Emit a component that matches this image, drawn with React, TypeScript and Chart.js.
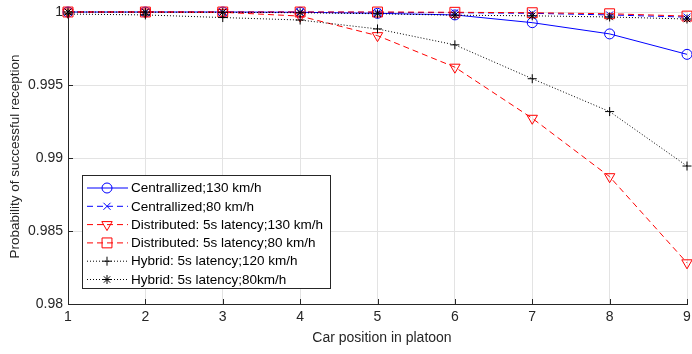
import React, { useEffect, useRef } from 'react';
import { Chart, registerables } from 'chart.js';
import { drawPoint } from 'chart.js/helpers';

Chart.register(...registerables);

const positions = [1, 2, 3, 4, 5, 6, 7, 8, 9];
const yTickValues = [0.98, 0.985, 0.99, 0.995, 1];
const yTickLabels = ['0.98', '0.985', '0.99', '0.995', '1'];
const xTickLabels = ['1', '2', '3', '4', '5', '6', '7', '8', '9'];

const centralized130 = [1, 1, 1, 0.99998, 0.99991, 0.9998, 0.99927, 0.9985, 0.9971];
const centralized80 = [1, 1, 1, 1, 0.99998, 0.99995, 0.99991, 0.9998, 0.99965];
const distributed130 = [1, 1, 0.99998, 0.99972, 0.99838, 0.99622, 0.99272, 0.98872, 0.98282];
const distributed80 = [1, 1, 1, 1, 1, 0.99998, 0.99995, 0.99988, 0.99972];
const hybrid120 = [0.99986, 0.9998, 0.99962, 0.99945, 0.99884, 0.99775, 0.99543, 0.99318, 0.98945];
const hybrid80 = [1, 0.99999, 0.99998, 0.99995, 0.99988, 0.99978, 0.99974, 0.99966, 0.99952];

const seriesNames = [
  'Centrallized;130 km/h',
  'Centrallized;80 km/h',
  'Distributed: 5s latency;130 km/h',
  'Distributed: 5s latency;80 km/h',
  'Hybrid: 5s latency;120 km/h',
  'Hybrid: 5s latency;80km/h',
];

const FONT = '"Liberation Sans", Arial, Helvetica, sans-serif';
const TEXT = '#262626';

type Style = { color: string; dash: number[]; pointStyle: string; radius: number; rotation: number };
const styles: Style[] = [
  { color: '#0000ff', dash: [], pointStyle: 'circle', radius: 5, rotation: 0 },
  { color: '#0000ff', dash: [6, 4], pointStyle: 'crossRot', radius: 5, rotation: 0 },
  { color: '#ff0000', dash: [6, 4], pointStyle: 'triangle', radius: 6, rotation: 180 },
  { color: '#ff0000', dash: [6, 4], pointStyle: 'rect', radius: 7, rotation: 0 },
  { color: '#000000', dash: [1, 2], pointStyle: 'cross', radius: 4.5, rotation: 0 },
  { color: '#000000', dash: [1, 2], pointStyle: 'star', radius: 4.5, rotation: 0 },
];

const seriesValues = [centralized130, centralized80, distributed130, distributed80, hybrid120, hybrid80];

const decorPlugin = {
  id: 'decor',
  afterDatasetsDraw(chart: any) {
    const ctx = chart.ctx as CanvasRenderingContext2D;
    const area = chart.chartArea;
    const xs = chart.scales.x;
    const ys = chart.scales.y;
    ctx.save();
    ctx.strokeStyle = TEXT;
    ctx.lineWidth = 1;
    ctx.setLineDash([]);
    ctx.beginPath();
    positions.forEach((p) => {
      const px = Math.round(xs.getPixelForValue(p)) + 0.5;
      ctx.moveTo(px, area.bottom);
      ctx.lineTo(px, area.bottom - 5);
    });
    yTickValues.forEach((v) => {
      const py = Math.round(ys.getPixelForValue(v)) + 0.5;
      ctx.moveTo(area.left, py);
      ctx.lineTo(area.left + 5, py);
    });
    ctx.stroke();
    ctx.restore();
  },
  afterDraw(chart: any) {
    const ctx = chart.ctx as CanvasRenderingContext2D;
    ctx.save();
    ctx.fillStyle = TEXT;
    ctx.textAlign = 'center';
    ctx.textBaseline = 'middle';
    ctx.font = `14px ${FONT}`;
    ctx.fillText('Car position in platoon', 382, 338.5);
    ctx.font = `13.5px ${FONT}`;
    ctx.save();
    ctx.translate(15, 156.5);
    ctx.rotate(-Math.PI / 2);
    ctx.fillText('Probability of successful reception', 0, 0);
    ctx.restore();

    const bx = 82.5, by = 175.5, bw = 248, bh = 113;
    ctx.fillStyle = '#ffffff';
    ctx.fillRect(bx, by, bw, bh);
    ctx.strokeStyle = TEXT;
    ctx.lineWidth = 1;
    ctx.setLineDash([]);
    ctx.strokeRect(bx, by, bw, bh);
    ctx.font = `13.5px ${FONT}`;
    ctx.textAlign = 'left';
    ctx.textBaseline = 'middle';
    seriesNames.forEach((name, i) => {
      const st = styles[i];
      const y = 188 + i * 18.3;
      ctx.strokeStyle = st.color;
      ctx.lineWidth = 1;
      ctx.setLineDash(st.dash);
      ctx.beginPath();
      ctx.moveTo(87, y);
      ctx.lineTo(128, y);
      ctx.stroke();
      ctx.setLineDash([]);
      ctx.fillStyle = 'rgba(0,0,0,0)';
      drawPoint(ctx, { pointStyle: st.pointStyle as any, radius: st.radius, rotation: st.rotation, borderWidth: 1 } as any, 107, y);
      ctx.fillStyle = '#000000';
      ctx.fillText(name, 131, y + 0.5);
    });
    ctx.restore();
  },
};

export default function App() {
  const ref = useRef<HTMLCanvasElement | null>(null);
  useEffect(() => {
    if (!ref.current) return;
    const chart = new Chart(ref.current, {
      type: 'line',
      data: {
        datasets: seriesNames.map((name, i) => ({
          label: name,
          data: positions.map((x, j) => ({ x, y: seriesValues[i][j] })),
          borderColor: styles[i].color,
          backgroundColor: 'rgba(0,0,0,0)',
          borderWidth: 1,
          borderDash: styles[i].dash,
          pointStyle: styles[i].pointStyle as any,
          pointRadius: styles[i].radius,
          pointRotation: styles[i].rotation,
          pointBorderColor: styles[i].color,
          pointBackgroundColor: 'rgba(0,0,0,0)',
          pointBorderWidth: 1,
          tension: 0,
          fill: false,
          clip: false as any,
          order: seriesNames.length - i,
        })),
      },
      options: {
        responsive: false,
        animation: false,
        devicePixelRatio: 1,
        layout: { autoPadding: false, padding: { top: 12, right: 5, left: 0, bottom: 0 } },
        plugins: { legend: { display: false }, tooltip: { enabled: false }, title: { display: false } },
        scales: {
          x: {
            type: 'linear',
            min: 1,
            max: 9,
            afterBuildTicks: (s: any) => { s.ticks = positions.map((v) => ({ value: v })); },
            afterFit: (s: any) => { s.height = 50; s.paddingRight = 0; s.paddingLeft = 0; },
            ticks: {
              padding: 5,
              color: TEXT,
              font: { family: FONT, size: 14 },
              maxRotation: 0,
              callback: (v: any) => xTickLabels[positions.indexOf(Number(v))] ?? '',
            },
            grid: { color: '#e3e3e3', drawTicks: false, lineWidth: 1 },
            border: { display: true, color: TEXT, width: 1 },
          },
          y: {
            type: 'linear',
            min: 0.98,
            max: 1,
            afterBuildTicks: (s: any) => { s.ticks = yTickValues.map((v) => ({ value: v })); },
            afterFit: (s: any) => { s.width = 68; s.paddingTop = 0; s.paddingBottom = 0; },
            ticks: {
              padding: 5,
              color: TEXT,
              font: { family: FONT, size: 14 },
              callback: (v: any) => {
                const idx = yTickValues.findIndex((t) => Math.abs(t - Number(v)) < 1e-9);
                return idx >= 0 ? yTickLabels[idx] : '';
              },
            },
            grid: { color: '#e3e3e3', drawTicks: false, lineWidth: 1 },
            border: { display: true, color: TEXT, width: 1 },
          },
        },
      },
      plugins: [decorPlugin],
    });
    return () => chart.destroy();
  }, []);
  return (
    <div style={{ position: 'fixed', left: 0, top: 0, width: 692, height: 354, background: '#fff' }}>
      <canvas ref={ref} width={692} height={354} style={{ width: 692, height: 354, display: 'block' }} />
    </div>
  );
}
